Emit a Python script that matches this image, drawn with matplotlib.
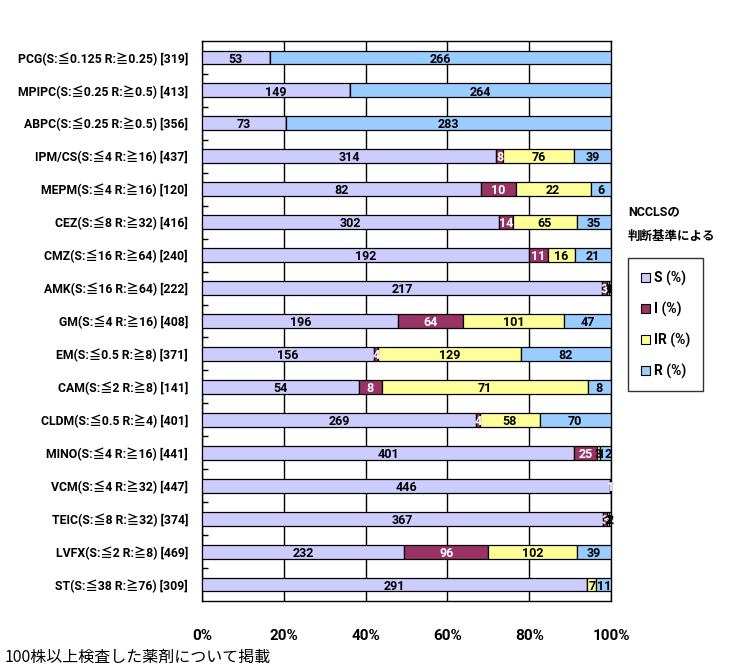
import matplotlib
matplotlib.use("Agg")
import matplotlib.pyplot as plt
from matplotlib.patches import Patch
import numpy as np

plt.rcParams['font.family'] = ['Roboto', 'Noto Sans CJK JP', 'DejaVu Sans']

categories = [
    "PCG(S:≦0.125 R:≧0.25) [319]",
    "MPIPC(S:≦0.25 R:≧0.5) [413]",
    "ABPC(S:≦0.25 R:≧0.5) [356]",
    "IPM/CS(S:≦4 R:≧16) [437]",
    "MEPM(S:≦4 R:≧16) [120]",
    "CEZ(S:≦8 R:≧32) [416]",
    "CMZ(S:≦16 R:≧64) [240]",
    "AMK(S:≦16 R:≧64) [222]",
    "GM(S:≦4 R:≧16) [408]",
    "EM(S:≦0.5 R:≧8) [371]",
    "CAM(S:≦2 R:≧8) [141]",
    "CLDM(S:≦0.5 R:≧4) [401]",
    "MINO(S:≦4 R:≧16) [441]",
    "VCM(S:≦4 R:≧32) [447]",
    "TEIC(S:≦8 R:≧32) [374]",
    "LVFX(S:≦2 R:≧8) [469]",
    "ST(S:≦38 R:≧76) [309]",
]
S_vals = [53, 149, 73, 314, 82, 302, 192, 217, 196, 156, 54, 269, 401, 446, 367, 232, 291]
I_vals = [0, 0, 0, 8, 10, 14, 11, 3, 64, 4, 8, 4, 25, 1, 3, 96, 0]
IR_vals = [0, 0, 0, 76, 22, 65, 16, 1, 101, 129, 71, 58, 3, 0, 2, 102, 7]
R_vals = [266, 264, 283, 39, 6, 35, 21, 1, 47, 82, 8, 70, 12, 0, 2, 39, 11]
series_names = ["S (%)", "I (%)", "IR (%)", "R (%)"]
colors = ["#CCCCFF", "#993366", "#FFFF99", "#99CCFF"]
text_colors = ["black", "white", "black", "black"]
xtick_labels = ["0%", "20%", "40%", "60%", "80%", "100%"]

W, H = 737, 671
fig = plt.figure(figsize=(W / 100, H / 100), dpi=100)
ax = fig.add_axes([202 / W, 1 - 601 / H, (611 - 202) / W, (601 - 41) / H])

data = np.array([S_vals, I_vals, IR_vals, R_vals], dtype=float)
totals = data.sum(axis=0)
pct = data / totals * 100
y = np.arange(len(categories))
left = np.zeros(len(categories))
for k in range(4):
    ax.barh(y, pct[k], left=left, height=0.42, color=colors[k],
            edgecolor="black", linewidth=0.9, zorder=3)
    for i in range(len(categories)):
        if data[k, i] > 0:
            ax.text(left[i] + pct[k, i] / 2, y[i] + 0.05, f"{int(data[k, i])}",
                    ha="center", va="center", fontsize=9, fontweight="bold",
                    color=text_colors[k], zorder=4)
    left += pct[k]

ax.set_xlim(0, 100)
ax.set_ylim(len(categories) - 0.5, -0.5)
ax.set_xticks([0, 20, 40, 60, 80, 100])
ax.set_xticklabels(xtick_labels, fontsize=11, fontweight="bold")
ax.tick_params(axis="x", length=0, pad=20)
ax.set_yticks(y)
ax.set_yticklabels(categories, fontsize=8.8, fontweight="bold")
ax.tick_params(axis="y", which="major", length=0, pad=10)
ax.set_yticks(np.arange(0.5, len(categories) - 0.5, 1), minor=True)
ax.tick_params(axis="y", which="minor", direction="in", length=4, width=1)
ax.xaxis.grid(True, color="black", linewidth=1, zorder=0)
for sp in ax.spines.values():
    sp.set_linewidth(1)
    sp.set_color("black")

fig.text(628 / W, 1 - 212 / H, "NCCLSの", fontsize=9, fontweight="bold",
         va="center", ha="left")
fig.text(628 / W, 1 - 236 / H, "判断基準による", fontsize=9, fontweight="bold",
         va="center", ha="left", family=['Noto Sans CJK JP'])

handles = [Patch(facecolor=c, edgecolor="black", linewidth=0.8) for c in colors]
leg = fig.legend(handles, series_names, loc="upper left",
                 bbox_to_anchor=(628 / W, 1 - 258 / H), borderaxespad=0,
                 frameon=True, fancybox=False, edgecolor="black",
                 handlelength=0.7, handleheight=0.7, handletextpad=0.3,
                 labelspacing=1.15, borderpad=0.9,
                 prop={"size": 10, "weight": "bold"})
leg.get_frame().set_linewidth(1)

fig.text(5 / W, 1 - 657 / H, "100株以上検査した薬剤について掲載", fontsize=11.5,
         va="center", ha="left", family=['Noto Sans CJK JP'])

fig.savefig("out.png", dpi=100)
